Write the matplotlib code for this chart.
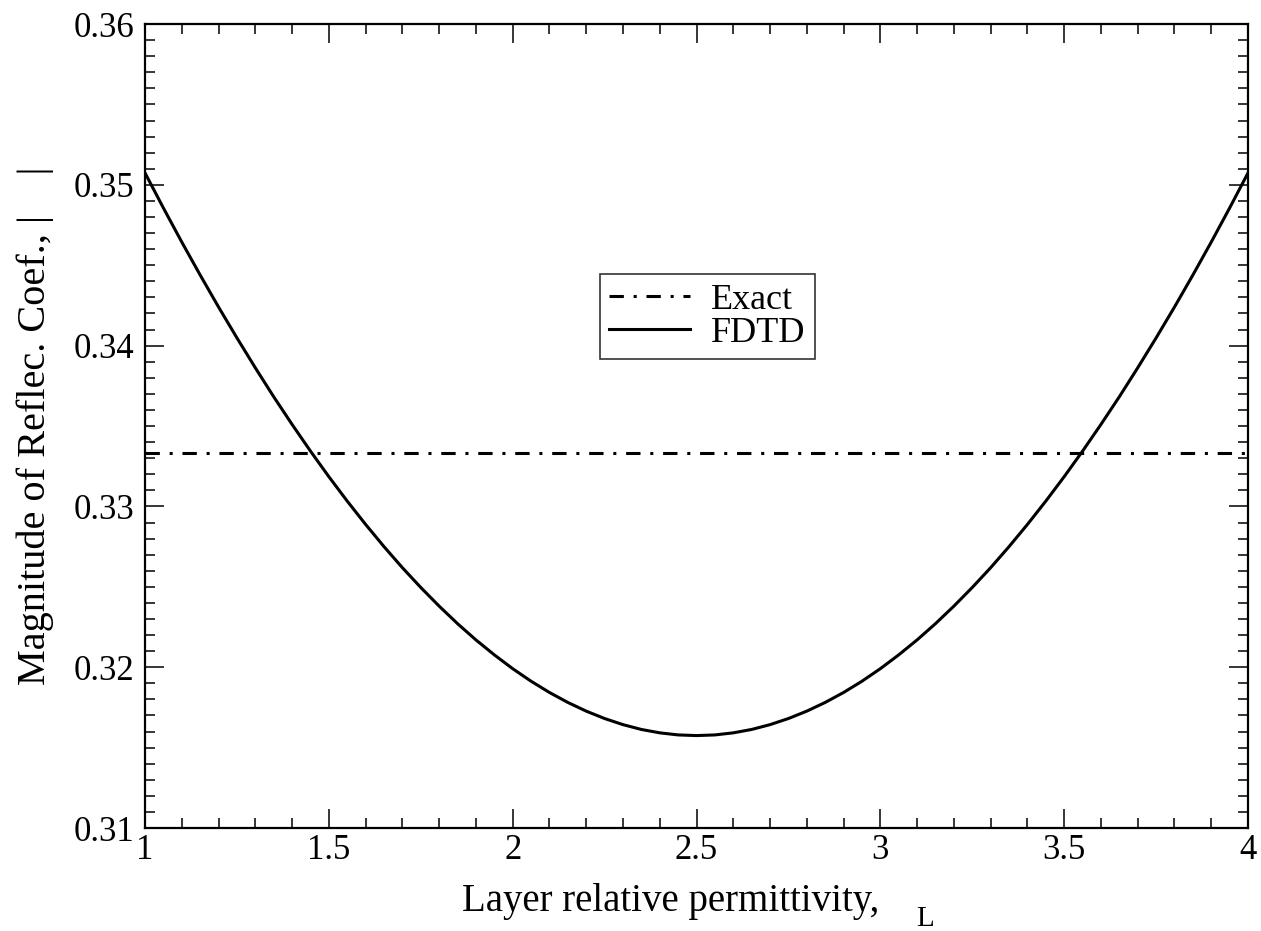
import matplotlib
matplotlib.use("Agg")
import matplotlib.pyplot as plt
from matplotlib.ticker import MultipleLocator

plt.rcParams['font.family'] = ['Liberation Serif', 'DejaVu Serif']

# data
eps_l = [1.00, 1.05, 1.10, 1.15, 1.20, 1.25, 1.30, 1.35, 1.40, 1.45,
         1.50, 1.55, 1.60, 1.65, 1.70, 1.75, 1.80, 1.85, 1.90, 1.95,
         2.00, 2.05, 2.10, 2.15, 2.20, 2.25, 2.30, 2.35, 2.40, 2.45,
         2.50, 2.55, 2.60, 2.65, 2.70, 2.75, 2.80, 2.85, 2.90, 2.95,
         3.00, 3.05, 3.10, 3.15, 3.20, 3.25, 3.30, 3.35, 3.40, 3.45,
         3.50, 3.55, 3.60, 3.65, 3.70, 3.75, 3.80, 3.85, 3.90, 3.95,
         4.00]
fdtd = [0.35074, 0.34856, 0.34644, 0.34439, 0.34240, 0.34048, 0.33862,
        0.33682, 0.33510, 0.33344, 0.33185, 0.33033, 0.32888, 0.32750,
        0.32619, 0.32496, 0.32380, 0.32271, 0.32170, 0.32077, 0.31991,
        0.31913, 0.31843, 0.31781, 0.31727, 0.31681, 0.31643, 0.31613,
        0.31592, 0.31579, 0.31575,
        0.31579, 0.31592, 0.31613, 0.31643, 0.31681, 0.31727, 0.31781,
        0.31843, 0.31913, 0.31991, 0.32077, 0.32170, 0.32271, 0.32380,
        0.32496, 0.32619, 0.32750, 0.32888, 0.33033, 0.33185, 0.33344,
        0.33510, 0.33682, 0.33862, 0.34048, 0.34240, 0.34439, 0.34644,
        0.34856, 0.35074]
exact_x = [1.0, 4.0]
exact = [1.0 / 3.0, 1.0 / 3.0]

fig = plt.figure(figsize=(12.61, 9.31), dpi=100)
ax = fig.add_axes([0.115, 0.1106, 0.8747, 0.8636])

lw = 2.2
ax.plot(exact_x, exact, color='black', lw=lw, dashes=(4.7, 3.2, 1, 3.2),
        label='Exact')
ax.plot(eps_l, fdtd, color='black', lw=lw, label='FDTD')

ax.set_xlim(1, 4)
ax.set_ylim(0.31, 0.36)
ax.xaxis.set_major_locator(MultipleLocator(0.5))
ax.xaxis.set_minor_locator(MultipleLocator(0.1))
ax.yaxis.set_major_locator(MultipleLocator(0.01))
ax.yaxis.set_minor_locator(MultipleLocator(0.001))
ax.xaxis.set_major_formatter(plt.FuncFormatter(lambda v, p: '%g' % v))
ax.yaxis.set_major_formatter(plt.FuncFormatter(lambda v, p: '%.2f' % v))

ax.tick_params(which='both', direction='in', top=True, right=True,
               labelsize=25, width=1.1)
ax.tick_params(axis='x', pad=4)
ax.tick_params(axis='y', pad=8)
ax.tick_params(which='major', length=14)
ax.tick_params(which='minor', length=7)
for s in ax.spines.values():
    s.set_linewidth(1.6)

ax.set_xlabel('Layer relative permittivity,', fontsize=28)
ax.xaxis.set_label_coords((671 - 145) / 1103, -0.068)
ax.set_ylabel('Magnitude of Reflec. Coef., |    |', fontsize=29, labelpad=14)
fig.text(925 / 1261, 5 / 931, 'L', fontsize=21, ha='center',
         va='baseline')

leg = ax.legend(loc='center', bbox_to_anchor=(0.51, 0.636), fontsize=26,
                frameon=True, fancybox=False, handlelength=2.24,
                borderpad=0.25, labelspacing=0.0, handletextpad=0.58,
                borderaxespad=0)
leg.get_frame().set_edgecolor('black')
leg.get_frame().set_linewidth(1.2)

fig.savefig('out.png', dpi=100)
